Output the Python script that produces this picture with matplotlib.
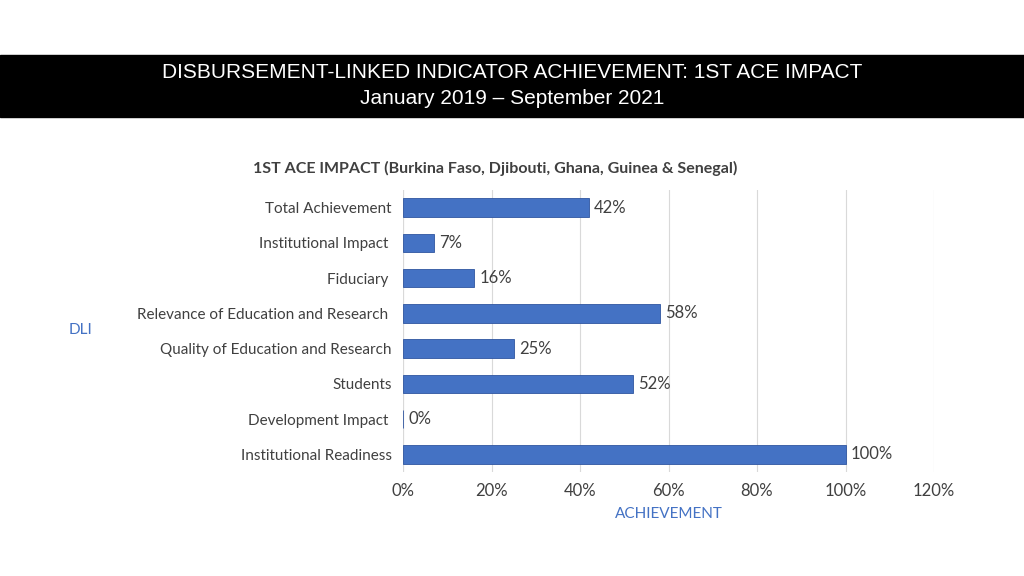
import matplotlib.pyplot as plt
from matplotlib.patches import Rectangle

# data (top to bottom)
categories = ["Total Achievement", "Institutional Impact ", "Fiduciary ",
              "Relevance of Education and Research ", "Quality of Education and Research",
              "Students", "Development Impact ", "Institutional Readiness"]
values = [42, 7, 16, 58, 25, 52, 0, 100]
xticks = [0, 20, 40, 60, 80, 100, 120]

blue = "#4472C4"
font = "Lato"

fig = plt.figure(figsize=(10.24, 5.76), dpi=100)

# black title banner
fig.patches.append(Rectangle((0, 1 - 117 / 576), 1, 62 / 576, transform=fig.transFigure,
                             color="black", zorder=0))
fig.text(0.5, 1 - 72 / 576, "DISBURSEMENT-LINKED INDICATOR ACHIEVEMENT: 1ST ACE IMPACT",
         ha="center", va="center", color="white", fontsize=15, family="Liberation Sans")
fig.text(0.5, 1 - 98 / 576, "January 2019 \u2013 September 2021",
         ha="center", va="center", color="white", fontsize=15, family="Liberation Sans")

ax = fig.add_axes([403 / 1024, 1 - 472 / 576, 531 / 1024, 282 / 576])
ypos = list(range(len(categories)))[::-1]
ax.barh(ypos, values, height=0.52, color=blue, edgecolor="#2F55A0", linewidth=0.6, zorder=3)
for y, v in zip(ypos, values):
    ax.text(v + 1.2, y, f"{v}%", va="center", ha="left", fontsize=12,
            family=font, color="#404040")

ax.set_xlim(0, 120)
ax.set_ylim(-0.5, 7.5)
ax.set_xticks(xticks)
ax.set_xticklabels([f"{t}%" for t in xticks], fontsize=12, family=font, color="#404040")
ax.set_yticks(ypos)
ax.set_yticklabels(categories, fontsize=11, family=font, color="#404040")
ax.tick_params(length=0, pad=8)
ax.grid(axis="x", color="#D9D9D9", linewidth=0.8, zorder=0)
for s in ax.spines.values():
    s.set_visible(False)
ax.axvline(0, color="#D9D9D9", linewidth=0.8, zorder=1)

ax.set_xlabel("ACHIEVEMENT", color=blue, fontsize=11, family=font, labelpad=6)
fig.text(80 / 1024, 1 - 330 / 576, "DLI", color=blue, fontsize=11, family=font,
         ha="center", va="center")
fig.text(495 / 1024, 1 - 168 / 576,
         "1ST ACE IMPACT (Burkina Faso, Djibouti, Ghana, Guinea & Senegal)",
         ha="center", va="center", fontsize=11.5, fontweight="bold", family=font,
         color="#404040")

fig.savefig("out.png", dpi=100)
